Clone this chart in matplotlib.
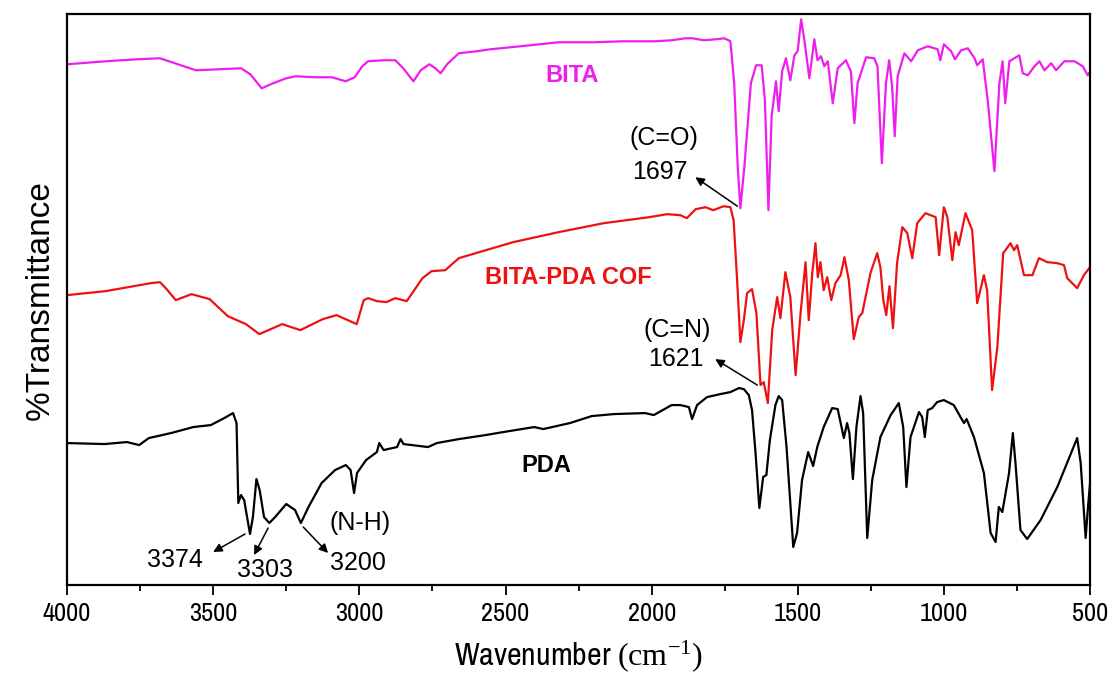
import numpy as np
import matplotlib
matplotlib.use('Agg')
from matplotlib import pyplot as plt
from matplotlib.ticker import MultipleLocator

# wavenumber (cm-1) / transmittance (a.u., offset traces)
bita_wn = [4000, 3868, 3760, 3682, 3651, 3600, 3559, 3480, 3404, 3373, 3334, 3295, 3250, 3218, 3150,
           3094, 3047, 3016, 2990, 2970, 2920, 2877, 2850, 2815, 2790, 2761, 2740, 2722, 2700, 2660,
           2600, 2552, 2450, 2319, 2200, 2100, 1990, 1932, 1885, 1860, 1823, 1780, 1752, 1731, 1718,
           1706, 1697, 1683, 1661, 1643, 1624, 1613, 1601, 1590, 1575, 1566, 1554, 1541, 1526, 1512,
           1501, 1489, 1478, 1461, 1444, 1433, 1421, 1410, 1398, 1381, 1364, 1336, 1319, 1307, 1296,
           1267, 1239, 1228, 1213, 1199, 1188, 1178, 1169, 1159, 1136, 1113, 1090, 1056, 1022, 1013,
           1001, 976, 963, 942, 919, 896, 887, 868, 851, 828, 811, 800, 791, 777, 760,
           743, 731, 714, 691, 674, 657, 634, 617, 589, 554, 526, 509, 500]
bita_t = [521, 524, 526, 527, 524, 519, 515, 516, 517, 511, 497, 502, 507, 509, 508,
          508, 504, 508, 519, 524, 525, 525, 517, 504, 515, 521, 517, 512, 521, 532,
          534, 536, 539, 543, 543, 544, 544, 545, 547, 547, 545, 546, 547, 544, 502,
          419, 377, 419, 502, 520, 520, 485, 375, 469, 504, 474, 514, 527, 505, 530,
          534, 566, 545, 507, 546, 525, 529, 519, 524, 482, 517, 525, 514, 462, 502,
          528, 527, 519, 422, 502, 525, 499, 449, 509, 532, 524, 535, 539, 536, 525,
          541, 534, 526, 535, 537, 527, 520, 526, 485, 414, 502, 524, 482, 524, 527,
          530, 512, 510, 519, 524, 515, 522, 515, 524, 524, 519, 510, 514]

cof_wn = [4000, 3868, 3713, 3682, 3659, 3628, 3574, 3512, 3450, 3388, 3342, 3264, 3202, 3125, 3078,
          3032, 3009, 2985, 2970, 2940, 2908, 2877, 2838, 2784, 2753, 2706, 2660, 2567, 2474, 2319,
          2164, 2009, 1947, 1902, 1880, 1850, 1816, 1790, 1754, 1731, 1720, 1708, 1697, 1685, 1674,
          1657, 1642, 1628, 1617, 1603, 1588, 1571, 1560, 1543, 1526, 1508, 1491, 1474, 1463, 1451,
          1440, 1432, 1423, 1412, 1400, 1386, 1372, 1354, 1341, 1326, 1309, 1292, 1280, 1252, 1229,
          1218, 1208, 1198, 1187, 1175, 1161, 1143, 1126, 1109, 1092, 1064, 1029, 1017, 1001, 989,
          972, 961, 950, 927, 904, 887, 864, 853, 836, 818, 798, 773, 761, 750, 727,
          698, 676, 647, 613, 590, 579, 545, 522, 501]
cof_t = [290, 294, 302, 303, 296, 285, 291, 286, 269, 261, 251, 261, 255, 266, 270,
         264, 261, 285, 287, 284, 283, 287, 284, 307, 314, 315, 327, 335, 343, 353,
         362, 368, 371, 370, 367, 376, 378, 375, 379, 378, 365, 305, 243, 265, 292,
         296, 272, 200, 203, 182, 255, 288, 267, 313, 288, 210, 272, 323, 265, 312,
         342, 308, 323, 295, 308, 285, 302, 310, 328, 305, 246, 268, 272, 312, 332,
         318, 285, 270, 299, 257, 322, 358, 352, 327, 362, 372, 368, 330, 378, 368,
         325, 353, 340, 372, 355, 282, 310, 295, 195, 238, 332, 342, 335, 340, 310,
         310, 327, 323, 322, 320, 307, 297, 310, 318]

pda_wn = [4000, 3871, 3795, 3753, 3720, 3644, 3568, 3508, 3462, 3432, 3420, 3414, 3405, 3394, 3374,
          3364, 3352, 3341, 3326, 3308, 3288, 3250, 3220, 3200, 3174, 3129, 3083, 3046, 3030, 3018,
          3008, 2977, 2940, 2932, 2917, 2871, 2859, 2849, 2765, 2735, 2659, 2568, 2508, 2402, 2371,
          2280, 2205, 2129, 2023, 1993, 1932, 1902, 1873, 1862, 1845, 1811, 1765, 1731, 1702, 1685,
          1668, 1657, 1645, 1632, 1619, 1608, 1596, 1577, 1566, 1554, 1539, 1516, 1503, 1486, 1465,
          1448, 1434, 1412, 1383, 1364, 1343, 1332, 1324, 1312, 1300, 1286, 1277, 1263, 1246, 1218,
          1183, 1155, 1140, 1129, 1115, 1086, 1075, 1066, 1056, 1041, 1024, 1001, 967, 944, 932,
          923, 898, 864, 841, 824, 813, 801, 778, 765, 756, 739, 716, 670, 613, 545,
          533, 516, 508, 500]
pda_t = [142, 141, 143, 140, 147, 152, 158, 160, 167, 172, 162, 82, 90, 85, 51,
         68, 106, 95, 68, 62, 68, 81, 75, 62, 78, 102, 115, 120, 115, 92,
         112, 125, 133, 142, 135, 138, 146, 141, 138, 142, 146, 150, 153, 158, 156,
         162, 169, 171, 172, 170, 180, 180, 178, 166, 180, 188, 191, 193, 197, 196,
         190, 175, 132, 77, 108, 110, 145, 180, 189, 185, 138, 38, 52, 105, 133,
         119, 138, 158, 177, 176, 147, 162, 152, 106, 158, 189, 172, 47, 105, 148,
         170, 182, 158, 98, 148, 173, 168, 148, 175, 177, 183, 185, 180, 168, 162,
         166, 148, 112, 52, 43, 78, 73, 112, 152, 122, 55, 46, 65, 98, 147,
         122, 47, 78, 105]

c_bita = '#ee1fee'
c_cof = '#ee1111'

plt.rcParams['font.family'] = ['Liberation Sans', 'DejaVu Sans']
plt.rcParams['mathtext.fontset'] = 'custom'
plt.rcParams['mathtext.rm'] = 'Liberation Serif'
narrow = ['Archivo Narrow', 'Liberation Sans']

fig = plt.figure(figsize=(11.16, 6.81), dpi=100)
ax = fig.add_axes([0.060, 0.141, 0.917, 0.838])

ax.plot(bita_wn, bita_t, color=c_bita, lw=1.6)
ax.plot(cof_wn, cof_t, color=c_cof, lw=1.6)
ax.plot(pda_wn, pda_t, color='black', lw=1.6)

ax.set_xlim(4000, 500)
ax.set_ylim(0, 571)
ax.xaxis.set_major_locator(MultipleLocator(500))
ax.xaxis.set_minor_locator(MultipleLocator(250))
ax.set_yticks([])
ax.tick_params(axis='x', which='major', direction='out', length=7, width=1.3, pad=5)
ax.tick_params(axis='x', which='minor', direction='out', length=4, width=1.3)
for lab in ax.get_xticklabels():
    lab.set_family(narrow)
    lab.set_fontsize(19)
for s in ax.spines.values():
    s.set_linewidth(1.6)

ax.set_xlabel(r'Wavenumber $\mathrm{(cm^{-1})}$', family=narrow, fontsize=23, labelpad=10)
ax.set_ylabel('%Transmittance', fontsize=24, labelpad=8)

# trace labels
ax.text(2272, 510, 'BITA', color=c_bita, fontsize=17, fontweight='bold', ha='center', va='center')
ax.text(2286, 308, 'BITA-PDA COF', color=c_cof, fontsize=17, fontweight='bold', ha='center', va='center')
ax.text(2360, 120, 'PDA', color='black', fontsize=17, fontweight='bold', ha='center', va='center')

arw = dict(arrowstyle='-|>', color='black', lw=1.1, mutation_scale=13, shrinkA=0, shrinkB=0)

# C=O
ax.text(1960, 447, '(C=O)', fontsize=18, ha='center', va='center')
ax.text(1971, 413, '1697', fontsize=18, ha='center', va='center')
ax.annotate('', xy=(1851, 408), xytext=(1707, 379), arrowprops=arw)

# C=N
ax.text(1913, 255, '(C=N)', fontsize=18, ha='center', va='center')
ax.text(1919, 226, '1621', fontsize=18, ha='center', va='center')
ax.annotate('', xy=(1783, 226), xytext=(1639, 200), arrowprops=arw)

# N-H
ax.text(2997, 62, '(N-H)', fontsize=18, ha='center', va='center')
ax.text(3630, 25, '3374', fontsize=18, ha='center', va='center')
ax.text(3322, 15, '3303', fontsize=18, ha='center', va='center')
ax.text(3004, 22, '3200', fontsize=18, ha='center', va='center')
ax.annotate('', xy=(3500, 33), xytext=(3391, 51), arrowprops=arw)
ax.annotate('', xy=(3360, 30), xytext=(3312, 57), arrowprops=arw)
ax.annotate('', xy=(3107, 32), xytext=(3192, 58), arrowprops=arw)

fig.savefig('out.png', dpi=100)
